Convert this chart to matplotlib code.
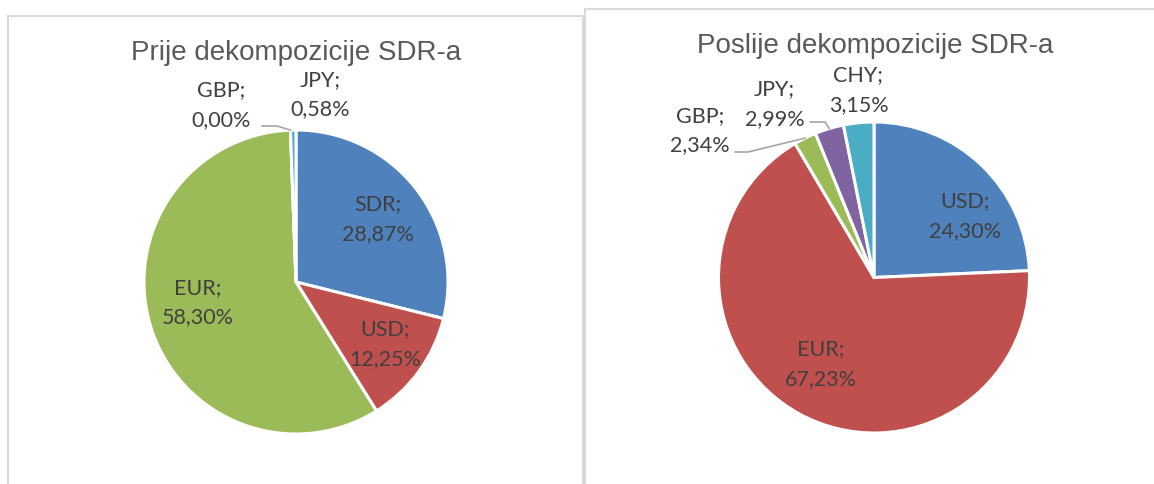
import matplotlib
matplotlib.use("Agg")
from matplotlib import pyplot as plt
from matplotlib.lines import Line2D
import numpy as np

# data
before_labels = ["SDR", "USD", "EUR", "GBP", "JPY"]
before_values = [28.87, 12.25, 58.30, 0.00, 0.58]
after_labels = ["USD", "EUR", "GBP", "JPY", "CHY"]
after_values = [24.30, 67.23, 2.34, 2.99, 3.15]
before_title = "Prije dekompozicije SDR-a"
after_title = "Poslije dekompozicije SDR-a"

colors_before = ["#4F81BD", "#C0504D", "#9BBB59", "#8064A2", "#4BACC6"]
colors_after = ["#4F81BD", "#C0504D", "#9BBB59", "#8064A2", "#4BACC6"]

W, H = 1154, 485
fig = plt.figure(figsize=(W / 100, H / 100), dpi=100)
fig.patch.set_facecolor("white")


def pie_axes(cx, cy, half=240):
    # axes centred on pixel (cx, cy), top-left origin
    ax = fig.add_axes([(cx - half) / W, 1 - (cy + half) / H, 2 * half / W, 2 * half / H])
    ax.axis("off")
    return ax


def fmt(lab, v):
    return "%s;\n%s%%" % (lab, ("%.2f" % v).replace(".", ","))


def draw_pie(ax, r, labels, values, colors, label_pos, leaders, half=240):
    wedges, _ = ax.pie(values, colors=colors, startangle=90, counterclock=False,
                       radius=1.0, wedgeprops=dict(edgecolor="white", linewidth=2.2))
    # 1 data unit = r pixels (pie() resets the limits, so set them afterwards)
    ax.set_xlim(-half / r, half / r)
    ax.set_ylim(-half / r, half / r)
    ax.set_aspect("equal")
    for w, lab, v, pos in zip(wedges, labels, values, label_pos):
        ax.text(pos[0], pos[1], fmt(lab, v), ha="center", va="center",
                fontsize=15.5, family=["Lato", "DejaVu Sans"], color="#404040",
                linespacing=1.6, clip_on=False)
    for idx, pts in leaders.items():
        w = wedges[idx]
        mid = np.deg2rad((w.theta1 + w.theta2) / 2)
        xs = [p[0] for p in pts] + [np.cos(mid)]
        ys = [p[1] for p in pts] + [np.sin(mid)]
        ax.plot(xs, ys, color="#A6A6A6", lw=1.2, clip_on=False)


# left panel
ax1 = pie_axes(296, 283)
draw_pie(ax1, 152, before_labels, before_values, colors_before,
         [(0.54, 0.42), (0.585, -0.40), (-0.645, -0.13), (-0.49, 1.17), (0.16, 1.24)],
         {3: [(-0.224, 1.026), (-0.125, 1.026)]})
fig.text(296 / W, 1 - 53 / H, before_title, ha="center", va="center",
         fontsize=20, family="Liberation Sans", color="#595959")

# right panel
ax2 = pie_axes(874, 278.5)
draw_pie(ax2, 155.5, after_labels, after_values, colors_after,
         [(0.585, 0.40), (-0.34, -0.55), (-1.12, 0.95), (-0.64, 1.12), (-0.10, 1.21)],
         {2: [(-0.894, 0.807), (-0.81, 0.807)],
          3: [(-0.41, 1.0), (-0.315, 1.0)]})
fig.text(875 / W, 1 - 46 / H, after_title, ha="center", va="center",
         fontsize=20, family="Liberation Sans", color="#595959")

# panel frames
border = dict(color="#D9D9D9", lw=1.5, transform=fig.transFigure)
fig.add_artist(Line2D([8 / W, 8 / W], [0, 1 - 17 / H], **border))
fig.add_artist(Line2D([8 / W, 583 / W], [1 - 17 / H, 1 - 17 / H], **border))
fig.add_artist(Line2D([583 / W, 583 / W], [0, 1 - 17 / H], **border))
fig.add_artist(Line2D([585 / W, 585 / W], [0, 1 - 10 / H], **border))
fig.add_artist(Line2D([585 / W, 1], [1 - 10 / H, 1 - 10 / H], **border))

plt.savefig("out.png", dpi=100, facecolor="white")
